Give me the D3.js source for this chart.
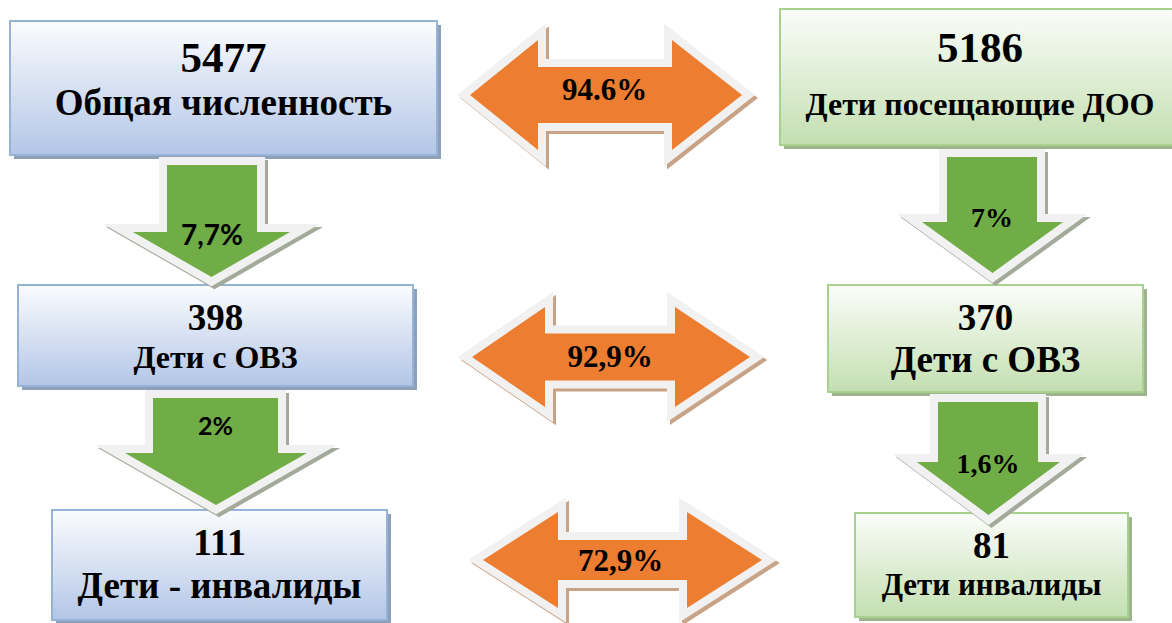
<!DOCTYPE html>
<html><head><meta charset="utf-8">
<script src="https://cdn.jsdelivr.net/npm/d3@7"></script>
<style>html,body{margin:0;padding:0;background:#fff;overflow:hidden}svg{display:block}text.serif{font-family:"Liberation Serif";font-weight:bold}text.sans{font-family:"Lato";font-weight:bold}</style>
</head><body><svg id="c" width="1172" height="623"></svg>
<script>
// ---- data ----
const leftValues = [5477, 398, 111];
const leftLabels = ["Общая численность", "Дети с ОВЗ", "Дети - инвалиды"];
const rightValues = [5186, 370, 81];
const rightLabels = ["Дети посещающие ДОО", "Дети с ОВЗ", "Дети инвалиды"];
const leftDownPct = ["7,7%", "2%"];
const rightDownPct = ["7%", "1,6%"];
const acrossPct = ["94.6%", "92,9%", "72,9%"];

// ---- layout (geometry only) ----
const leftBoxes = [
  {x:10, y:21, w:427, h:134, vY:72, vW:85, lY:115, lW:340},
  {x:18, y:285, w:395, h:101, vY:330, vW:55, lY:368, lW:164},
  {x:52, y:510, w:335, h:110, vY:555, vW:53, lY:598, lW:283}
];
const rightBoxes = [
  {x:780, y:9, w:400, h:136, vY:62, vW:85, lY:115, lW:346},
  {x:828, y:285, w:315, h:107, vY:330, vW:55, lY:372, lW:190},
  {x:855, y:513, w:273, h:104, vY:558, vW:37, lY:595, lW:223}
];
const leftDown = [
  {sx1:167, sx2:257, top:165, hy:232, hx1:133, hx2:290, tip:277, tY:245, tW:62, cls:"sans"},
  {sx1:153, sx2:278, top:398, hy:453, hx1:125, hx2:307, tip:505, tY:435, tW:35, cls:"sans"}
];
const rightDown = [
  {sx1:947, sx2:1037, top:157, hy:222, hx1:922, hx2:1063, tip:273, tY:227, tW:42, cls:"serif"},
  {sx1:938, sx2:1038, top:402, hy:462, hx1:917, hx2:1060, tip:515, tY:473, tW:63, cls:"serif"}
];
const across = [
  {tl:470, hl:538, hr:672, tr:742, cy:95, hh:55, sh:28, tX:604.5, tY:100, tW:85},
  {tl:472, hl:545, hr:675, tr:750, cy:357, hh:50, sh:23.5, tX:610, tY:367, tW:86},
  {tl:483, hl:558, hr:687, tr:762, cy:560, hh:48, sh:20, tX:620.5, tY:571, tW:85}
];

const svg = d3.select("#c");
const defs = svg.append("defs");
function grad(id, c0, c1){
  const g = defs.append("linearGradient").attr("id", id).attr("x1",0).attr("y1",0).attr("x2",0).attr("y2",1);
  g.append("stop").attr("offset","0%").attr("stop-color",c0);
  g.append("stop").attr("offset","100%").attr("stop-color",c1);
}
grad("gBlue", "#fbfcfe", "#b3c6e7");
grad("gGreen", "#fbfdf9", "#c3dfb1");

const line = d3.line().curve(d3.curveLinearClosed);
const shapeLayer = svg.append("g");
const textQueue = [];

function queueText(txt, cx, y, target, cls){ textQueue.push({txt, cx, y, target, cls}); }

function drawBoxes(boxes, values, labels, fillId, stroke, shadow){
  boxes.forEach((b, i) => {
    shapeLayer.append("rect").attr("x", b.x + 4).attr("y", b.y + 4).attr("width", b.w).attr("height", b.h).attr("fill", shadow);
    shapeLayer.append("rect").attr("x", b.x).attr("y", b.y).attr("width", b.w).attr("height", b.h)
      .attr("fill", `url(#${fillId})`).attr("stroke", stroke).attr("stroke-width", 2);
    const cx = b.x + b.w / 2;
    queueText(String(values[i]), cx, b.vY, b.vW, "serif");
    queueText(labels[i], cx, b.lY, b.lW, "serif");
  });
}

function drawShape(pts, fill, shadow){
  const d = line(pts);
  shapeLayer.append("path").attr("d", d).attr("transform","translate(3,3)")
    .attr("fill", shadow).attr("stroke", shadow).attr("stroke-width", 16)
    .attr("stroke-linejoin","miter").attr("stroke-miterlimit", 10);
  shapeLayer.append("path").attr("d", d)
    .attr("fill", "#f1f1f1").attr("stroke", "#f1f1f1").attr("stroke-width", 16)
    .attr("stroke-linejoin","miter").attr("stroke-miterlimit", 10);
  shapeLayer.append("path").attr("d", d).attr("fill", fill);
}

function downArrow(a, label){
  const cx = (a.hx1 + a.hx2) / 2;
  const pts = [[a.sx1,a.top],[a.sx2,a.top],[a.sx2,a.hy],[a.hx2,a.hy],[cx,a.tip],[a.hx1,a.hy],[a.sx1,a.hy]];
  drawShape(pts, "#70ad47", "#a3aa9a");
  queueText(label, (a.sx1 + a.sx2) / 2, a.tY, a.tW, a.cls);
}

function doubleArrow(a, label){
  const pts = [[a.tl,a.cy],[a.hl,a.cy-a.hh],[a.hl,a.cy-a.sh],[a.hr,a.cy-a.sh],[a.hr,a.cy-a.hh],[a.tr,a.cy],
               [a.hr,a.cy+a.hh],[a.hr,a.cy+a.sh],[a.hl,a.cy+a.sh],[a.hl,a.cy+a.hh]];
  drawShape(pts, "#ed7d31", "#c9a386");
  queueText(label, a.tX, a.tY, a.tW, "serif");
}

drawBoxes(leftBoxes, leftValues, leftLabels, "gBlue", "#95b3d7", "#8f9fba");
drawBoxes(rightBoxes, rightValues, rightLabels, "gGreen", "#a9d18e", "#9fb38f");
leftDown.forEach((a, i) => downArrow(a, leftDownPct[i]));
rightDown.forEach((a, i) => downArrow(a, rightDownPct[i]));
across.forEach((a, i) => doubleArrow(a, acrossPct[i]));

// text layer, appended directly to the svg
textQueue.forEach(q => {
  const fam = q.cls === "serif" ? "Liberation Serif" : "Lato";
  const t = svg.append("text").attr("class", q.cls).text(q.txt)
    .attr("x", q.cx).attr("y", q.y).attr("text-anchor", "middle")
    .attr("font-family", fam).attr("font-weight", "bold").attr("font-size", 40).attr("fill", "#000");
  const w = t.node().getComputedTextLength();
  if (w > 0) t.attr("font-size", Math.round(40 * q.target / w));
});
</script>
</body></html>
